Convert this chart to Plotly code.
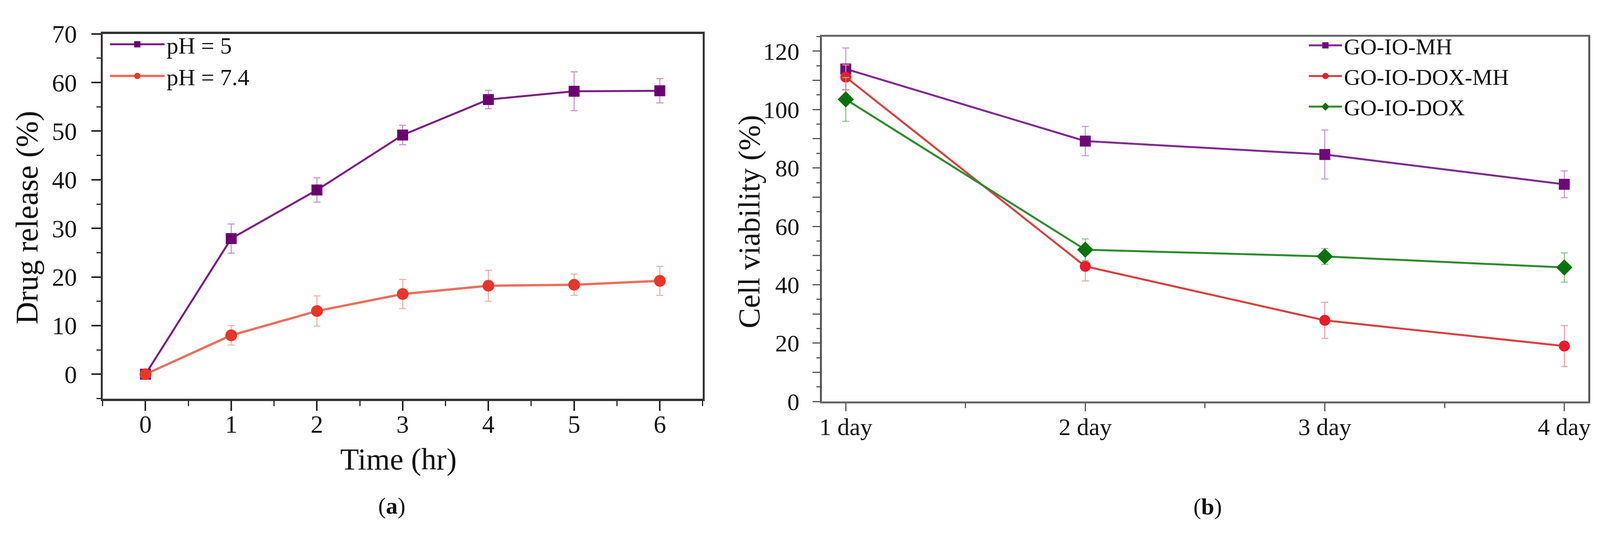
import plotly.graph_objects as go

# --- panel (a): drug release ---
time_hr = [0, 1, 2, 3, 4, 5, 6]
ph5 = [0, 27.9, 37.9, 49.2, 56.5, 58.2, 58.3]
ph5_err = [0.8, 3.0, 2.5, 2.0, 1.9, 4.0, 2.5]
ph74 = [0, 8.0, 13.0, 16.5, 18.2, 18.4, 19.2]
ph74_err = [0.6, 2.0, 3.1, 3.0, 3.2, 2.2, 3.0]
a_yticks = [0, 10, 20, 30, 40, 50, 60, 70]

# --- panel (b): cell viability ---
day_labels = ["1 day", "2 day", "3 day", "4 day"]
day_pos = [1, 2, 3, 4]
go_io_mh = [113.9, 89.2, 84.6, 74.4]
go_io_mh_err = [7.2, 5.0, 8.4, 4.6]
go_io_dox_mh = [111.1, 46.3, 27.8, 19.0]
go_io_dox_mh_err = [4.2, 5.0, 6.2, 7.0]
go_io_dox = [103.5, 52.0, 49.7, 45.9]
go_io_dox_err = [7.5, 3.7, 2.7, 5.0]
b_yticks = list(range(0, 121, 10))
b_yticktext = [str(v) if v % 20 == 0 else "" for v in b_yticks]

FONT = "Liberation Serif"
W, H = 4310, 1384     # reference size; positions below are fractions of it
FIG_W = 4096          # the page capture stops at 4096px, so draw the figure that wide

fig = go.Figure()

# panel a traces
fig.add_trace(go.Scatter(
    x=time_hr, y=ph5, name="pH = 5", mode="lines+markers",
    line=dict(color="#7a1e80", width=5),
    marker=dict(symbol="square", size=28, color="#6a0070"),
    error_y=dict(type="data", array=ph5_err, color="#c08cc4", thickness=2.5, width=9),
    legend="legend",
))
fig.add_trace(go.Scatter(
    x=time_hr, y=ph74, name="pH = 7.4", mode="lines+markers",
    line=dict(color="#e8705f", width=6),
    marker=dict(symbol="circle", size=30, color="#e8352a"),
    error_y=dict(type="data", array=ph74_err, color="#f2aaa2", thickness=2.5, width=9),
    legend="legend",
))

# panel b traces
b_series = [
    ("GO-IO-MH", go_io_mh, go_io_mh_err, "square", 28, "#6e0a78", "#7d2c8c", "#c790cb"),
    ("GO-IO-DOX-MH", go_io_dox_mh, go_io_dox_mh_err, "circle", 28, "#ea1c2c", "#d84040", "#ee9c9c"),
    ("GO-IO-DOX", go_io_dox, go_io_dox_err, "diamond", 32, "#0b720b", "#2e8a2e", "#82bf82"),
]
for name, vals, errs, sym, sz, mcol, lcol, ecol in b_series:
    fig.add_trace(go.Scatter(
        x=day_pos, y=vals, name=name, mode="lines+markers",
        xaxis="x2", yaxis="y2",
        line=dict(color=lcol, width=5),
        marker=dict(symbol=sym, size=sz, color=mcol),
        error_y=dict(type="data", array=errs, color=ecol, thickness=2.5, width=9),
        legend="legend2",
    ))

tick_font_a = dict(family=FONT, size=64, color="#111")
tick_font_b = dict(family=FONT, size=62, color="#111")

fig.update_layout(
    width=FIG_W, height=H,
    margin=dict(l=0, r=0, t=0, b=0),
    paper_bgcolor="white", plot_bgcolor="white",
    font=dict(family=FONT, color="#111"),
    xaxis=dict(
        domain=[270 / W, 1892 / W], range=[-0.5, 6.5],
        tickmode="array", tickvals=time_hr,
        ticks="outside", ticklen=25, tickwidth=4, tickcolor="#222",
        minor=dict(dtick=0.5, ticks="outside", ticklen=13, tickwidth=3, tickcolor="#222"),
        showline=True, linecolor="#333", linewidth=6, mirror=True,
        showgrid=False, zeroline=False, tickfont=tick_font_a, ticklabelstandoff=-20,
    ),
    yaxis=dict(
        domain=[1 - 1037 / H, 1 - 54.5 / H], range=[-5, 70],
        tickmode="array", tickvals=a_yticks,
        ticks="outside", ticklen=24, tickwidth=4, tickcolor="#222",
        minor=dict(dtick=5, ticks="outside", ticklen=11, tickwidth=3, tickcolor="#222"),
        showline=True, linecolor="#333", linewidth=5, mirror=True,
        showgrid=False, zeroline=False, tickfont=tick_font_a, ticklabelstandoff=24,
    ),
    xaxis2=dict(
        domain=[2214 / W, 4285.6 / W], range=[0.9, 4.1], anchor="y2",
        tickmode="array", tickvals=day_pos, ticktext=day_labels,
        ticks="outside", ticklen=20, tickwidth=3, tickcolor="#555",
        minor=dict(dtick=0.5, ticks="outside", ticklen=12, tickwidth=3, tickcolor="#555"),
        showline=True, linecolor="#666", linewidth=5, mirror=True,
        showgrid=False, zeroline=False, tickfont=tick_font_b, ticklabelstandoff=-14,
    ),
    yaxis2=dict(
        domain=[1 - 1045 / H, 1 - 61.7 / H], range=[0, 125], anchor="x2",
        tickmode="array", tickvals=b_yticks, ticktext=b_yticktext,
        ticks="outside", ticklen=19, tickwidth=3, tickcolor="#555",
        minor=dict(dtick=5, ticks="outside", ticklen=9, tickwidth=3, tickcolor="#555"),
        showline=True, linecolor="#555", linewidth=5, mirror=True,
        showgrid=False, zeroline=False, tickfont=tick_font_b, ticklabelstandoff=21,
    ),
    legend=dict(
        x=0.066, y=0.975, xanchor="left", yanchor="top",
        bgcolor="rgba(255,255,255,0)", borderwidth=0,
        font=dict(family=FONT, size=60, color="#111"),
        itemwidth=140, tracegroupgap=0,
    ),
    legend2=dict(
        x=3525 / W, y=0.972, xanchor="left", yanchor="top",
        bgcolor="rgba(255,255,255,0)", borderwidth=0,
        font=dict(family=FONT, size=58, color="#111"),
        itemwidth=85, tracegroupgap=0,
    ),
    showlegend=True,
)

annotations = [
    dict(text="Drug release (%)", x=66 / W, y=1 - 550 / H, textangle=-90, size=80),
    dict(text="Time (hr)", x=1070 / W, y=1 - 1200 / H, textangle=0, size=78),
    dict(text="(<b>a</b>)", x=1052 / W, y=1 - 1326 / H, textangle=0, size=60),
    dict(text="Cell viability (%)", x=2017 / W, y=1 - 560 / H, textangle=-90, size=78),
    dict(text="(<b>b</b>)", x=3257 / W, y=1 - 1328 / H, textangle=0, size=60),
]
for a in annotations:
    fig.add_annotation(
        text=a["text"], x=a["x"], y=a["y"], xref="paper", yref="paper",
        xanchor="center", yanchor="middle", textangle=a["textangle"],
        showarrow=False, font=dict(family=FONT, size=a["size"], color="#111"),
    )

# no page margin or scrollbars so the figure sits at the window corner
fig.write_html(
    "out.html",
    config={"displayModeBar": False},
    post_script="document.body.style.margin='0px';"
                "document.body.style.overflow='hidden';"
                "document.documentElement.style.overflow='hidden';",
)
